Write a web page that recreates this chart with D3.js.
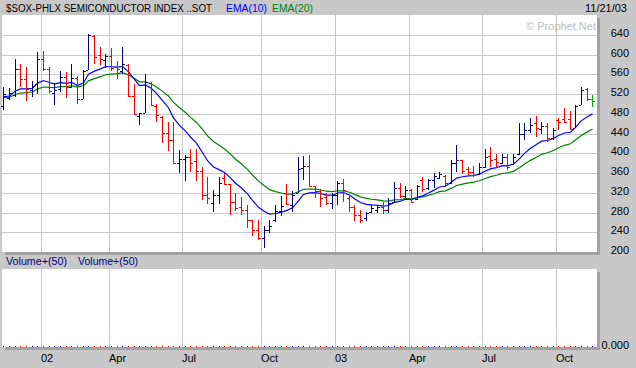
<!DOCTYPE html>
<html><head><meta charset="utf-8">
<script src="https://cdn.jsdelivr.net/npm/d3@7"></script>
<style>
body{margin:0;background:#c8c8c8}
svg{display:block}
text{font-family:"Liberation Sans",Arial,sans-serif;font-size:11px}
</style>
</head><body>
<svg id="c" width="636" height="368"></svg>
<script>
// ---- data (weekly bars, week of 2001-11-19 .. week of 2003-11-17) ----
const firstWeek = "2001-11-19", lastWeek = "2003-11-17";
const high = [535,532,591,581,575,546,606,608,576,542,566,564,581,557,569,643,640,615,601,614,587,616,581,540,482,560,544,
500,476,464,464,407,397,408,408,372,353,326,353,360,338,320,311,296,265,265,252,265,296,314,338,323,392,
394,396,333,327,319,319,344,348,313,296,286,282,296,296,302,309,341,340,333,327,336,353,348,360,363,356,
387,416,387,373,375,380,409,412,399,399,398,399,461,461,471,475,464,461,451,471,491,485,498,534,532,518];
const low = [487,508,515,535,507,515,520,567,522,498,525,513,532,500,510,569,581,579,574,567,551,560,515,478,457,481,496,
464,422,404,378,360,344,363,343,306,297,282,297,336,275,283,275,248,232,225,209,238,260,272,295,282,319,
346,331,309,292,296,287,296,302,282,262,259,262,280,280,277,279,302,309,306,299,306,322,325,330,348,333,
338,363,358,356,353,356,370,373,370,378,367,377,397,427,441,434,439,424,427,448,461,448,451,498,507,495];
const open = [497,513,518,572,550,528,540,591,572,522,530,554,534,552,511,570,637,600,590,598,576,568,580,517,475,482,543,
497,474,441,427,380,388,392,385,365,316,300,316,350,338,301,292,286,265,244,228,245,265,283,320,295,320,
370,375,333,324,312,300,315,340,310,292,275,268,282,285,292,285,302,330,313,325,307,345,330,345,350,355,
340,380,386,368,362,358,372,395,388,380,393,378,398,440,448,462,450,455,432,468,469,470,452,498,530,510];
const close = [520,522,572,550,530,537,591,571,526,529,554,535,552,510,567,639,595,592,597,574,571,582,517,480,481,545,499,
478,441,427,380,388,392,380,365,316,310,316,340,338,301,290,286,265,244,228,245,253,283,293,298,315,368,
375,333,324,310,300,315,340,325,292,275,265,280,290,292,285,300,330,313,325,302,333,327,345,355,358,340,
380,386,365,362,357,372,393,387,383,393,373,393,440,448,458,452,455,432,448,464,464,450,497,528,510,506];
// EMA starting levels
const ema10Start = 515, ema20Start = 513;
const tickDates = ["2002-01-07","2002-04-01","2002-07-01","2002-10-07","2003-01-06","2003-04-07","2003-07-07","2003-10-06"];
const tickLabels = ["02","Apr","Jul","Oct","03","Apr","Jul","Oct"];
const priceTicks = [200,240,280,320,360,400,440,480,520,560,600,640];
const title = "$SOX-PHLX SEMICONDUCTOR INDEX ..SOT";
const dateLabel = "11/21/03";

// ---- setup ----
const svg = d3.select("#c");
const parse = d3.timeParse("%Y-%m-%d"), fmt = d3.timeFormat("%Y-%m-%d");
const weeks = d3.timeMonday.range(parse(firstWeek), d3.timeDay.offset(parse(lastWeek), 1)).map(fmt);
const bars = weeks.map((w, i) => ({w, i, h: high[i], l: low[i], o: open[i], c: close[i]}));

const x = d3.scaleBand().domain(weeks).range([1, 595.6]).paddingInner(0).paddingOuter(0);
const cx = w => Math.round(x(w) + x.bandwidth() * 0.41);
const y = d3.scaleLinear().domain([200, 640]).range([252, 35]);
const yv = d3.scaleLinear().domain([0, 1]).range([346, 270]);

const NAVY = "#000080", RED = "#ff0000", GREEN = "#00b000", GRID = "#c8c8c8", SHADOW = "#a2a2a2";
const colorOf = d => d.i === bars.length - 1 ? GREEN : (d.c < d.o ? RED : NAVY);

// background
svg.append("rect").attr("width", 636).attr("height", 368).attr("fill", "#c8c8c8");

// panels
const main = {x0: 2, x1: 597, y0: 15, y1: 252};
const vol = {x0: 2, x1: 597, y0: 269, y1: 347};
[main, vol].forEach(p => {
  svg.append("rect").attr("x", p.x1).attr("y", p.y0 + 3).attr("width", 3).attr("height", p.y1 - p.y0).attr("fill", SHADOW);
  svg.append("rect").attr("x", p.x0 + 3).attr("y", p.y1).attr("width", p.x1 - p.x0).attr("height", 3).attr("fill", SHADOW);
  svg.append("rect").attr("x", p.x0).attr("y", p.y0).attr("width", p.x1 - p.x0).attr("height", p.y1 - p.y0).attr("fill", "#fff");
});

// grid
const gx = tickDates.map(d => Math.round(x(d)) + 0.5);
[main, vol].forEach(p => {
  svg.append("g").selectAll("line").data(gx).join("line")
    .attr("x1", d => d).attr("x2", d => d).attr("y1", p.y0).attr("y2", p.y1)
    .attr("stroke", GRID).attr("stroke-width", 1);
});
svg.append("g").selectAll("line").data(priceTicks.filter(v => v > 200)).join("line")
  .attr("x1", main.x0).attr("x2", main.x1)
  .attr("y1", d => Math.round(y(d)) + 0.5).attr("y2", d => Math.round(y(d)) + 0.5)
  .attr("stroke", GRID).attr("stroke-width", 1);

// watermark
svg.append("text").attr("x", 596).attr("y", 30).attr("text-anchor", "end")
  .attr("fill", "#bdbdbd").text("\u00a9 Prophet.Net");

// EMA lines (exponential moving averages of the closes, as labelled)
function ema(n, start) {
  const a = 2 / (n + 1), out = [start];
  for (let i = 1; i < close.length; i++) out.push(out[i - 1] + a * (close[i] - out[i - 1]));
  return out;
}
const e10 = ema(10, ema10Start), e20 = ema(20, ema20Start);
const line = d3.line().x((d, i) => cx(weeks[i]) + 0.5).y(d => y(d));
svg.append("path").attr("d", line(e20)).attr("fill", "none").attr("stroke", "#008000").attr("stroke-width", 1.2);
svg.append("path").attr("d", line(e10)).attr("fill", "none").attr("stroke", "#0000ff").attr("stroke-width", 1.2);

// OHLC bars
const gb = svg.append("g").attr("shape-rendering", "crispEdges");
bars.forEach(d => {
  const xc = cx(d.w), col = colorOf(d);
  const yt = Math.round(y(d.h)), yb = Math.round(y(d.l));
  gb.append("rect").attr("x", xc).attr("y", yt).attr("width", 1).attr("height", Math.max(1, yb - yt)).attr("fill", col);
  gb.append("rect").attr("x", xc - 2).attr("y", Math.round(y(d.o))).attr("width", 2).attr("height", 1).attr("fill", col);
  gb.append("rect").attr("x", xc + 1).attr("y", Math.round(y(d.c))).attr("width", 2).attr("height", 1).attr("fill", col);
});

// volume (zero) dots
svg.append("g").attr("shape-rendering", "crispEdges").selectAll("rect").data(bars).join("rect")
  .attr("x", d => cx(d.w)).attr("y", Math.round(yv(0))).attr("width", 1).attr("height", 1)
  .attr("fill", d => colorOf(d) === RED ? RED : NAVY);

// header
svg.append("text").attr("x", 6).attr("y", 12).attr("fill", "#000").style("font-size", "10px")
  .attr("textLength", 206).attr("lengthAdjust", "spacingAndGlyphs").text(title);
svg.append("text").attr("x", 226).attr("y", 12).attr("fill", "#0000ff").style("font-size", "10.5px")
  .attr("textLength", 41).attr("lengthAdjust", "spacingAndGlyphs").text("EMA(10)");
svg.append("text").attr("x", 272).attr("y", 12).attr("fill", "#008000").style("font-size", "10.5px")
  .attr("textLength", 41).attr("lengthAdjust", "spacingAndGlyphs").text("EMA(20)");
svg.append("text").attr("x", 627).attr("y", 12).attr("text-anchor", "end").attr("fill", "#000").text(dateLabel);

// volume header
svg.append("text").attr("x", 6).attr("y", 265).attr("fill", NAVY)
  .attr("textLength", 61).attr("lengthAdjust", "spacingAndGlyphs").text("Volume+(50)");
svg.append("text").attr("x", 78).attr("y", 265).attr("fill", NAVY)
  .attr("textLength", 60).attr("lengthAdjust", "spacingAndGlyphs").text("Volume+(50)");

// right price axis
svg.append("g").selectAll("text").data(priceTicks).join("text")
  .attr("x", 629).attr("y", d => Math.round(y(d)) + 2).attr("text-anchor", "end").attr("fill", "#000")
  .text(d => d);
svg.append("text").attr("x", 629).attr("y", Math.round(yv(0)) + 3).attr("text-anchor", "end").attr("fill", "#000").text("0.000");

// bottom date axis
svg.append("g").selectAll("text").data(tickDates).join("text")
  .attr("x", d => Math.round(x(d))).attr("y", 362).attr("fill", "#000")
  .text((d, i) => tickLabels[i]);
</script>
</body></html>
